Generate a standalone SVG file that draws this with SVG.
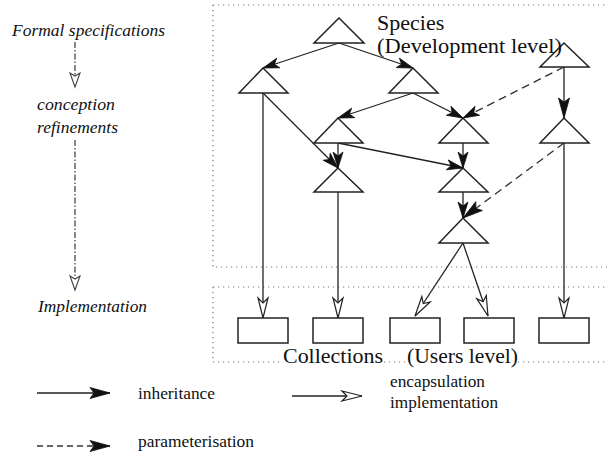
<svg xmlns="http://www.w3.org/2000/svg" width="607" height="455" viewBox="0 0 607 455">
<style>
.frame{stroke:#777;stroke-width:1.2;stroke-dasharray:1.2 3.8;fill:none}
.tri{fill:#fff;stroke:#222;stroke-width:1.5;stroke-linejoin:miter}
.box{fill:#fff;stroke:#222;stroke-width:1.5}
.inh{stroke:#222;stroke-width:1.3;fill:none;marker-end:url(#filled)}
.par{stroke:#333;stroke-width:1.4;fill:none;stroke-dasharray:8 5;marker-end:url(#filled)}
.enc{stroke:#222;stroke-width:1.3;fill:none;marker-end:url(#open)}
.flow{stroke:#555;stroke-width:1.4;fill:none;stroke-dasharray:6 2 1.5 2;marker-end:url(#vopen)}
.big{font-family:"Liberation Serif","Times New Roman",serif;font-size:22px;fill:#111}
.side{font-family:"Liberation Serif","Times New Roman",serif;font-style:italic;font-size:17px;fill:#111}
.leg{font-family:"Liberation Serif","Times New Roman",serif;font-size:16px;fill:#111}
</style>
<defs>
<marker id="filled" markerUnits="userSpaceOnUse" markerWidth="18" markerHeight="12" refX="16" refY="6" orient="auto" overflow="visible">
<path d="M16,6 L0,1 L4,6 L0,11 Z" fill="#111" stroke="#111" stroke-width="0.8"/>
</marker>
<marker id="bigfilled" markerUnits="userSpaceOnUse" markerWidth="22" markerHeight="14" refX="20" refY="7" orient="auto" overflow="visible">
<path d="M20,7 L0,1.5 L4,7 L0,12.5 Z" fill="#111" stroke="#111" stroke-width="0.8"/>
</marker>
<marker id="open" markerUnits="userSpaceOnUse" markerWidth="22" markerHeight="12" refX="20" refY="6" orient="auto" overflow="visible">
<path d="M20,6 L0,1 L5,6 L0,11 Z" fill="#fff" stroke="#222" stroke-width="1.2"/>
</marker>
<marker id="vopen" markerUnits="userSpaceOnUse" markerWidth="16" markerHeight="12" refX="14" refY="6" orient="auto" overflow="visible">
<path d="M14,6 L0,1 L3,6 L0,11 Z" fill="#fff" stroke="#444" stroke-width="1.1"/>
</marker>
</defs>

<g id="frames">
<path class="frame" d="M213,5 H607 M213,5 V267 H607"/>
<path class="frame" d="M213,287 H607 M213,287 V362 H283 M384,362 H406 M518,362 H607"/>
</g>

<g id="side-labels">
<text class="side" x="12" y="36" textLength="153" lengthAdjust="spacingAndGlyphs">Formal specifications</text>
<text class="side" x="37" y="110" textLength="78" lengthAdjust="spacingAndGlyphs">conception</text>
<text class="side" x="37" y="133" textLength="81" lengthAdjust="spacingAndGlyphs">refinements</text>
<text class="side" x="38" y="312" textLength="109" lengthAdjust="spacingAndGlyphs">Implementation</text>
<path class="flow" d="M75,42 V87"/>
<path class="flow" d="M75,140 V290"/>
</g>

<g id="connectors">
<path class="inh" d="M339,43 L263,68"/>
<path class="inh" d="M339,43 L413,68"/>
<path class="inh" d="M413,93 L338,118"/>
<path class="inh" d="M413,93 L463,118"/>
<path class="inh" d="M564,67 L564,118" style="marker-end:url(#bigfilled)"/>
<path class="par" d="M564,67 L463,118"/>
<path class="inh" d="M263,93 L338,168"/>
<path class="inh" d="M338,143 L338,168"/>
<path class="inh" d="M338,143 L463,168"/>
<path class="inh" d="M463,143 L463,168"/>
<path class="par" d="M564,143 L463,218" style="marker-end:url(#bigfilled)"/>
<path class="inh" d="M463,192 L463,218"/>
<path class="enc" d="M263,93 L263,318"/>
<path class="enc" d="M338,192 L338,318"/>
<path class="enc" d="M463,243 L415,316"/>
<path class="enc" d="M463,243 L488,316"/>
<path class="enc" d="M564,143 L564,318"/>
</g>

<g id="T1"><polygon class="tri" points="339,18 314,43 364,43"/></g>
<g id="T2"><polygon class="tri" points="263,68 239,93 288,93"/></g>
<g id="T3"><polygon class="tri" points="413,68 389,93 438,93"/></g>
<g id="T4"><polygon class="tri" points="564,43 540,67 589,67"/></g>
<g id="T5"><polygon class="tri" points="338,118 314,143 363,143"/></g>
<g id="T6"><polygon class="tri" points="463,118 439,143 488,143"/></g>
<g id="T7"><polygon class="tri" points="564,118 540,143 589,143"/></g>
<g id="T8"><polygon class="tri" points="338,168 314,192 363,192"/></g>
<g id="T9"><polygon class="tri" points="463,168 439,192 488,192"/></g>
<g id="T10"><polygon class="tri" points="463,218 439,243 488,243"/></g>

<g id="R1"><rect class="box" x="238" y="318" width="50" height="25"/></g>
<g id="R2"><rect class="box" x="313" y="318" width="50" height="25"/></g>
<g id="R3"><rect class="box" x="390" y="318" width="50" height="25"/></g>
<g id="R4"><rect class="box" x="464" y="318" width="50" height="25"/></g>
<g id="R5"><rect class="box" x="539" y="318" width="50" height="25"/></g>

<g id="titles">
<text class="big" x="377" y="30">Species</text>
<text class="big" x="377" y="53" textLength="185" lengthAdjust="spacingAndGlyphs">(Development level)</text>
<text class="big" x="283" y="363" textLength="100" lengthAdjust="spacingAndGlyphs">Collections</text>
<text class="big" x="407" y="363" textLength="111" lengthAdjust="spacingAndGlyphs">(Users level)</text>
</g>

<g id="legend">
<path class="inh" d="M37,393 H110" style="marker-end:url(#bigfilled)"/>
<text class="leg" x="138" y="399" textLength="77" lengthAdjust="spacingAndGlyphs">inheritance</text>
<path class="enc" d="M292,396 H362"/>
<text class="leg" x="390" y="387" textLength="95" lengthAdjust="spacingAndGlyphs">encapsulation</text>
<text class="leg" x="390" y="408" textLength="108" lengthAdjust="spacingAndGlyphs">implementation</text>
<path class="par" d="M37,446 H110" style="stroke-dasharray:6 4;marker-end:url(#bigfilled)"/>
<text class="leg" x="138" y="447" textLength="116" lengthAdjust="spacingAndGlyphs">parameterisation</text>
</g>
</svg>
